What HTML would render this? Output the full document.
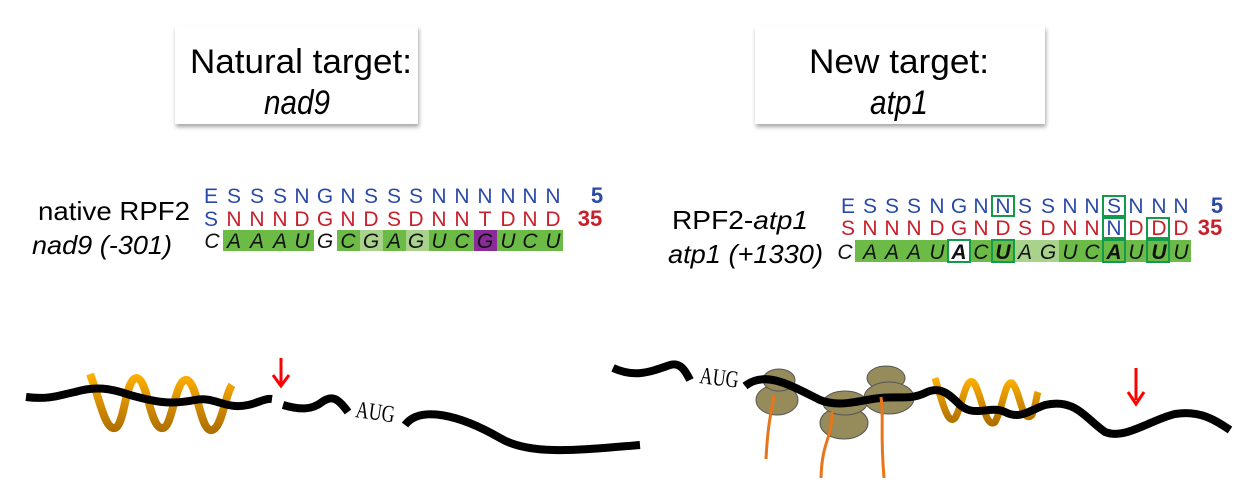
<!DOCTYPE html>
<html><head><meta charset="utf-8"><style>
html,body{margin:0;padding:0;background:#fff}
svg{display:block}
text{font-family:"Liberation Sans",Arial,sans-serif}
text.serif{font-family:"Liberation Serif",serif}
</style></head><body>
<svg width="1245" height="496" viewBox="0 0 1245 496" xmlns="http://www.w3.org/2000/svg">
<defs>
<filter id="sh" x="-10%" y="-10%" width="130%" height="140%"><feDropShadow dx="1" dy="3" stdDeviation="2" flood-color="#000" flood-opacity="0.35"/></filter>
<linearGradient id="og" x1="0" y1="0" x2="0" y2="1"><stop offset="0" stop-color="#ffb000"/><stop offset="1" stop-color="#b07000"/></linearGradient>
</defs>
<rect x="175" y="26" width="243" height="98" fill="#fff" filter="url(#sh)"/>
<rect x="755" y="26" width="290" height="98" fill="#fff" filter="url(#sh)"/>
<text x="301" y="73" font-size="34" text-anchor="middle" textLength="222" lengthAdjust="spacingAndGlyphs">Natural target:</text>
<text x="297" y="114" font-size="34" font-style="italic" text-anchor="middle" textLength="66" lengthAdjust="spacingAndGlyphs">nad9</text>
<text x="899" y="73" font-size="34" text-anchor="middle" textLength="180" lengthAdjust="spacingAndGlyphs">New target:</text>
<text x="899" y="114" font-size="34" font-style="italic" text-anchor="middle" textLength="58" lengthAdjust="spacingAndGlyphs">atp1</text>

<text x="38" y="220" font-size="26" textLength="152" lengthAdjust="spacingAndGlyphs">native RPF2</text>
<text x="32" y="254" font-size="26" font-style="italic" textLength="140" lengthAdjust="spacingAndGlyphs">nad9 (-301)</text>
<g font-size="21" text-anchor="middle">
<g fill="#2a4aa8">
<text x="211" y="203">E</text><text x="234" y="203">S</text><text x="257" y="203">S</text><text x="280" y="203">S</text><text x="302" y="203">N</text><text x="325" y="203">G</text><text x="348" y="203">N</text><text x="371" y="203">S</text><text x="394" y="203">S</text><text x="416" y="203">S</text><text x="439" y="203">N</text><text x="462" y="203">N</text><text x="485" y="203">N</text><text x="508" y="203">N</text><text x="530" y="203">N</text><text x="553" y="203">N</text>
<text x="211" y="226">S</text>
</g>
<g fill="#c8202a">
<text x="234" y="226">N</text><text x="257" y="226">N</text><text x="280" y="226">N</text><text x="302" y="226">D</text><text x="325" y="226">G</text><text x="348" y="226">N</text><text x="371" y="226">D</text><text x="394" y="226">S</text><text x="416" y="226">D</text><text x="439" y="226">N</text><text x="462" y="226">N</text><text x="485" y="226">T</text><text x="508" y="226">D</text><text x="530" y="226">N</text><text x="553" y="226">D</text>
</g>
</g>
<text x="597" y="203" font-size="22" font-weight="bold" fill="#2a4aa8" text-anchor="middle">5</text>
<text x="590" y="226" font-size="22" font-weight="bold" fill="#c8202a" text-anchor="middle">35</text>
<rect x="223" y="230" width="91" height="21" fill="#6cbb47"/>
<rect x="337" y="230" width="23" height="21" fill="#6cbb47"/>
<rect x="360" y="230" width="23" height="21" fill="#a9d38d"/>
<rect x="383" y="230" width="23" height="21" fill="#6cbb47"/>
<rect x="406" y="230" width="23" height="21" fill="#a9d38d"/>
<rect x="429" y="230" width="45" height="21" fill="#6cbb47"/>
<rect x="474" y="230" width="23" height="21" fill="#8b2a9a"/>
<rect x="497" y="230" width="66" height="21" fill="#6cbb47"/>
<g font-size="21" font-style="italic" text-anchor="middle" fill="#111">
<text x="212" y="248">C</text><text x="234" y="248">A</text><text x="257" y="248">A</text><text x="280" y="248">A</text><text x="302" y="248">U</text><text x="325" y="248">G</text><text x="348" y="248">C</text><text x="371" y="248">G</text><text x="394" y="248">A</text><text x="416" y="248">G</text><text x="439" y="248">U</text><text x="462" y="248">C</text><text x="485" y="248">G</text><text x="508" y="248">U</text><text x="530" y="248">C</text><text x="553" y="248">U</text>
</g>

<text x="672" y="229" font-size="26" textLength="136" lengthAdjust="spacingAndGlyphs">RPF2-<tspan font-style="italic">atp1</tspan></text>
<text x="668" y="263" font-size="26" font-style="italic" textLength="155" lengthAdjust="spacingAndGlyphs">atp1 (+1330)</text>
<rect x="855" y="240" width="336" height="22" fill="#6cbb47"/>
<rect x="1014" y="240" width="45" height="22" fill="#a9d38d"/>
<rect x="948" y="240" width="22" height="22" fill="#fff"/>
<g fill="none" stroke="#139a4a" stroke-width="2">
<rect x="992" y="196" width="22" height="20"/>
<rect x="1103" y="196" width="22" height="20"/>
<rect x="1103" y="218" width="22" height="20"/>
<rect x="1147" y="218" width="22" height="20"/>
<rect x="948" y="240" width="22" height="22"/>
<rect x="992" y="240" width="22" height="22"/>
<rect x="1103" y="240" width="22" height="22"/>
<rect x="1147" y="240" width="22" height="22"/>
</g>
<g font-size="21" text-anchor="middle">
<g fill="#2a4aa8">
<text x="848" y="213">E</text><text x="870" y="213">S</text><text x="892" y="213">S</text><text x="914" y="213">S</text><text x="937" y="213">N</text><text x="959" y="213">G</text><text x="981" y="213">N</text><text x="1003" y="213">N</text><text x="1025" y="213">S</text><text x="1048" y="213">S</text><text x="1070" y="213">N</text><text x="1092" y="213">N</text><text x="1114" y="213">S</text><text x="1136" y="213">N</text><text x="1159" y="213">N</text><text x="1181" y="213">N</text>
<text x="1114" y="235">N</text>
</g>
<g fill="#c8202a">
<text x="848" y="235">S</text><text x="870" y="235">N</text><text x="892" y="235">N</text><text x="914" y="235">N</text><text x="937" y="235">D</text><text x="959" y="235">G</text><text x="981" y="235">N</text><text x="1003" y="235">D</text><text x="1025" y="235">S</text><text x="1048" y="235">D</text><text x="1070" y="235">N</text><text x="1092" y="235">N</text><text x="1136" y="235">D</text><text x="1159" y="235">D</text><text x="1181" y="235">D</text>
</g>
</g>
<text x="1217" y="213" font-size="22" font-weight="bold" fill="#2a4aa8" text-anchor="middle">5</text>
<text x="1210" y="235" font-size="22" font-weight="bold" fill="#c8202a" text-anchor="middle">35</text>
<g font-size="21" font-style="italic" text-anchor="middle" fill="#111">
<text x="845" y="259">C</text><text x="870" y="259">A</text><text x="892" y="259">A</text><text x="914" y="259">A</text><text x="937" y="259">U</text><text x="959" y="259" font-weight="bold">A</text><text x="981" y="259">C</text><text x="1003" y="259" font-weight="bold">U</text><text x="1025" y="259">A</text><text x="1048" y="259">G</text><text x="1070" y="259">U</text><text x="1092" y="259">C</text><text x="1114" y="259" font-weight="bold">A</text><text x="1136" y="259">U</text><text x="1159" y="259" font-weight="bold">U</text><text x="1181" y="259">U</text>
</g>

<g fill="none" stroke-linecap="butt">
<path d="M90,374 C100,400 105,430 115,428 C125,425 125,378 137,378 C148,380 150,430 163,428 C173,426 175,378 187,380 C198,384 200,432 212,430 C222,428 225,395 232,385" stroke="url(#og)" stroke-width="8"/>
<path d="M26,397 C50,400 60,395 75,392 C95,386 110,388 130,395 C155,402 170,405 195,400 C215,396 225,410 248,405 C258,403 265,398 272,399" stroke="#000" stroke-width="8"/>
<path d="M283,405 C300,410 312,410 322,402 C332,395 338,398 348,412" stroke="#000" stroke-width="8"/>
<path d="M405,425 C420,405 460,415 500,438 C530,456 580,450 640,445" stroke="#000" stroke-width="8"/>
<path d="M281,358 L281,384" stroke="#f00" stroke-width="3"/>
<path d="M273,375 L281,386 L289,375" stroke="#f00" stroke-width="3"/>
</g>
<text class="serif" x="0" y="0" font-size="24" transform="translate(355 417) rotate(8) scale(0.75 1)">AUG</text>

<g fill="none">
<path d="M613,368 C635,378 650,372 670,365 C680,362 685,370 690,380" stroke="#000" stroke-width="8"/>
<ellipse cx="777" cy="400" rx="21" ry="15" fill="#958b5b" stroke="#555" stroke-width="1"/>
<ellipse cx="779" cy="380" rx="16" ry="11" fill="#958b5b" stroke="#555" stroke-width="1"/>
<ellipse cx="844" cy="423" rx="24" ry="16" fill="#958b5b" stroke="#555" stroke-width="1"/>
<ellipse cx="845" cy="403" rx="22" ry="12" fill="#958b5b" stroke="#555" stroke-width="1"/>
<ellipse cx="886" cy="378" rx="19" ry="12" fill="#958b5b" stroke="#555" stroke-width="1"/>
<ellipse cx="889" cy="398" rx="25" ry="16" fill="#958b5b" stroke="#555" stroke-width="1"/>
<path d="M935,378 C943,405 948,425 955,418 C963,405 965,378 973,382 C981,390 985,430 995,422 C1003,408 1005,380 1012,383 C1020,390 1022,425 1032,415 C1036,405 1036,398 1038,392" stroke="url(#og)" stroke-width="7"/>
<path d="M745,386 C765,370 790,385 820,400 C840,408 860,400 880,398 C900,396 910,400 925,393 C940,385 950,395 960,405 C975,418 990,405 1005,412 C1020,420 1030,410 1045,405 C1075,398 1085,418 1105,432 C1125,440 1150,420 1175,414 C1200,410 1215,420 1230,430" stroke="#000" stroke-width="8"/>
<path d="M774,395 C772,410 768,420 766,459" stroke="#e8751a" stroke-width="3"/>
<path d="M832,412 C832,440 822,440 821,478" stroke="#e8751a" stroke-width="3"/>
<path d="M881,397 C884,420 880,430 884,478" stroke="#e8751a" stroke-width="3"/>
<path d="M1136,368 L1136,400" stroke="#f00" stroke-width="3"/>
<path d="M1128,392 L1136,404 L1144,392" stroke="#f00" stroke-width="3"/>
</g>
<text class="serif" x="0" y="0" font-size="24" transform="translate(699 383) rotate(7) scale(0.75 1)">AUG</text>
</svg>
</body></html>
